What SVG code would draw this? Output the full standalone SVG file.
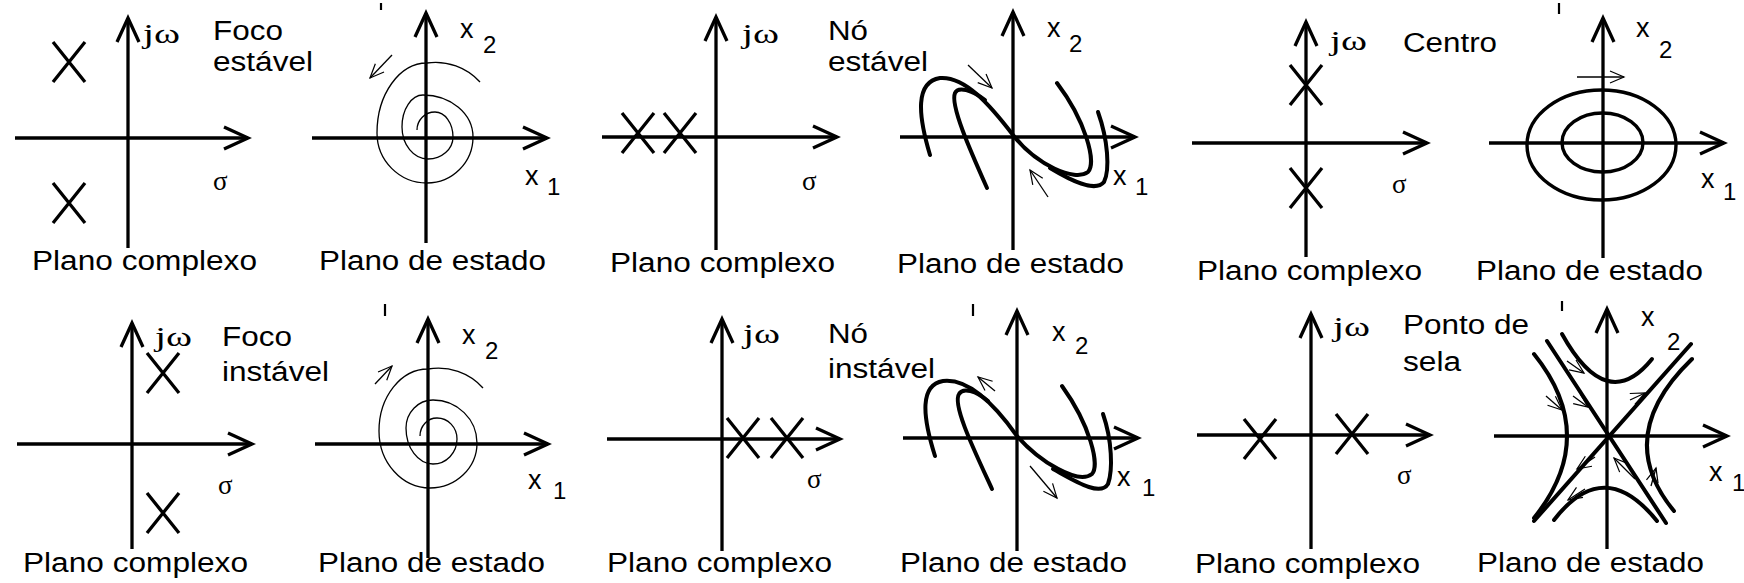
<svg xmlns="http://www.w3.org/2000/svg" width="1744" height="583" viewBox="0 0 1744 583">
<style>
.ax{stroke:#000;stroke-width:3.3;fill:none}
.cv{stroke:#000;stroke-width:4;fill:none;stroke-linecap:round;stroke-linejoin:round}
.el{stroke:#000;stroke-width:3.4;fill:none}
.th{stroke:#000;stroke-width:1.3;fill:none}
.tk{stroke:#000;stroke-width:2.2}
.lbl{font-family:"Liberation Sans",Arial,sans-serif;font-size:27px;fill:#000}
.ttl{font-family:"Liberation Sans",Arial,sans-serif;font-size:27px;fill:#000}
.var{font-family:"Liberation Sans",Arial,sans-serif;font-size:27px;fill:#000}
.sub{font-family:"Liberation Sans",Arial,sans-serif;font-size:24px;fill:#000}
.sym{font-family:"Liberation Serif","Times New Roman",serif;font-size:27px;fill:#000}
</style>
<defs>
<marker id="ah" viewBox="0 0 26 24" refX="25" refY="12" markerWidth="26" markerHeight="24" markerUnits="userSpaceOnUse" orient="auto" style="overflow:visible">
<path d="M1,1 L25,12 L1,23" fill="none" stroke="#000" stroke-width="3.3"/>
</marker>
<marker id="ta" viewBox="0 0 14 12" refX="14" refY="6" markerWidth="14" markerHeight="12" markerUnits="userSpaceOnUse" orient="auto" style="overflow:visible">
<path d="M0,0 L14,6 L0,12" fill="none" stroke="#000" stroke-width="1.2"/>
</marker>
<path id="xm" d="M-16,-20 L16,20 M16,-20 L-16,20" stroke="#000" stroke-width="3.3" fill="none"/>
</defs>

<g id="p1">
<line class="ax" x1="15" y1="138" x2="248" y2="138" marker-end="url(#ah)"/>
<line class="ax" x1="128" y1="248" x2="128" y2="18" marker-end="url(#ah)"/>
<use href="#xm" x="69" y="62"/>
<use href="#xm" x="69" y="203"/>
<text class="sym" x="143" y="43" textLength="37" lengthAdjust="spacingAndGlyphs">jω</text>
<text class="ttl" x="213" y="40" textLength="70" lengthAdjust="spacingAndGlyphs">Foco</text>
<text class="ttl" x="213" y="71" textLength="100" lengthAdjust="spacingAndGlyphs">estável</text>
<text class="sym" x="213" y="190">σ</text>
<text class="lbl" x="32" y="270" textLength="225" lengthAdjust="spacingAndGlyphs">Plano complexo</text>
</g>

<g id="p2">
<line class="ax" x1="312" y1="138" x2="547" y2="138" marker-end="url(#ah)"/>
<line class="ax" x1="426" y1="243" x2="426" y2="13" marker-end="url(#ah)"/>
<path class="th" d="M480,82 A60,60 0 0 0 427,63 A50,70 0 0 0 377,133 A50,50 0 0 0 427,183 A46,46 0 0 0 473,137 A50,42 0 0 0 423,95 A21,32 0 0 0 402,127 A26,32 0 0 0 428,159 A25,22 0 0 0 453,137 A18,25 0 0 0 435,112 A18,18 0 0 0 417,130"/>
<line class="th" x1="392" y1="55" x2="370" y2="78" marker-end="url(#ta)"/>
<line class="tk" x1="381" y1="3" x2="381" y2="10"/>
<text class="var" x="460" y="38">x</text><text class="sub" x="483" y="53">2</text>
<text class="var" x="525" y="185">x</text><text class="sub" x="547" y="195">1</text>
<text class="lbl" x="319" y="270" textLength="227" lengthAdjust="spacingAndGlyphs">Plano de estado</text>
</g>

<g id="p3">
<line class="ax" x1="602" y1="137" x2="837" y2="137" marker-end="url(#ah)"/>
<line class="ax" x1="716" y1="250" x2="716" y2="17" marker-end="url(#ah)"/>
<use href="#xm" x="638" y="133"/>
<use href="#xm" x="680" y="133"/>
<text class="sym" x="742" y="43" textLength="37" lengthAdjust="spacingAndGlyphs">jω</text>
<text class="ttl" x="828" y="40" textLength="40" lengthAdjust="spacingAndGlyphs">Nó</text>
<text class="ttl" x="828" y="71" textLength="100" lengthAdjust="spacingAndGlyphs">estável</text>
<text class="sym" x="802" y="190">σ</text>
<text class="lbl" x="610" y="272" textLength="225" lengthAdjust="spacingAndGlyphs">Plano complexo</text>
</g>

<g id="p4">
<line class="ax" x1="900" y1="137" x2="1135" y2="137" marker-end="url(#ah)"/>
<line class="ax" x1="1013" y1="250" x2="1013" y2="12" marker-end="url(#ah)"/>
<path class="cv" d="M930,155 C918,115 915,82 940,78 C965,76 990,105 1013,135 C1036,165 1075,182 1088,172 C1097,162 1085,120 1057,83"/>
<path class="cv" d="M987,188 C970,150 950,105 955,93 C958,86 972,90 985,100"/>
<path class="cv" d="M1050,168 C1070,180 1095,193 1104,182 C1110,170 1108,140 1098,112"/>
<line class="th" x1="968" y1="65" x2="992" y2="88" marker-end="url(#ta)"/>
<line class="th" x1="1048" y1="197" x2="1030" y2="170" marker-end="url(#ta)"/>
<text class="var" x="1047" y="37">x</text><text class="sub" x="1069" y="52">2</text>
<text class="var" x="1113" y="185">x</text><text class="sub" x="1135" y="195">1</text>
<text class="lbl" x="897" y="273" textLength="227" lengthAdjust="spacingAndGlyphs">Plano de estado</text>
</g>

<g id="p5">
<line class="ax" x1="1192" y1="143" x2="1427" y2="143" marker-end="url(#ah)"/>
<line class="ax" x1="1306" y1="257" x2="1306" y2="22" marker-end="url(#ah)"/>
<use href="#xm" x="1306" y="85"/>
<use href="#xm" x="1306" y="188"/>
<text class="sym" x="1330" y="50" textLength="37" lengthAdjust="spacingAndGlyphs">jω</text>
<text class="ttl" x="1403" y="52" textLength="94" lengthAdjust="spacingAndGlyphs">Centro</text>
<text class="sym" x="1392" y="193">σ</text>
<text class="lbl" x="1197" y="280" textLength="225" lengthAdjust="spacingAndGlyphs">Plano complexo</text>
</g>

<g id="p6">
<line class="ax" x1="1489" y1="143" x2="1724" y2="143" marker-end="url(#ah)"/>
<line class="ax" x1="1603" y1="258" x2="1603" y2="18" marker-end="url(#ah)"/>
<ellipse class="el" cx="1601.5" cy="145" rx="74.5" ry="55"/>
<ellipse class="el" cx="1602.5" cy="142.5" rx="40.5" ry="29.5"/>
<line class="th" x1="1577" y1="77" x2="1624" y2="77" marker-end="url(#ta)"/>
<line class="tk" x1="1559" y1="3" x2="1559" y2="14"/>
<text class="var" x="1636" y="37">x</text><text class="sub" x="1659" y="58">2</text>
<text class="var" x="1701" y="188">x</text><text class="sub" x="1723" y="200">1</text>
<text class="lbl" x="1476" y="280" textLength="227" lengthAdjust="spacingAndGlyphs">Plano de estado</text>
</g>

<g id="p7">
<line class="ax" x1="17" y1="444" x2="252" y2="444" marker-end="url(#ah)"/>
<line class="ax" x1="132" y1="549" x2="132" y2="323" marker-end="url(#ah)"/>
<use href="#xm" x="163" y="373"/>
<use href="#xm" x="163" y="513"/>
<text class="sym" x="155" y="346" textLength="37" lengthAdjust="spacingAndGlyphs">jω</text>
<text class="ttl" x="222" y="346" textLength="70" lengthAdjust="spacingAndGlyphs">Foco</text>
<text class="ttl" x="222" y="381" textLength="107" lengthAdjust="spacingAndGlyphs">instável</text>
<text class="sym" x="218" y="494">σ</text>
<text class="lbl" x="23" y="572" textLength="225" lengthAdjust="spacingAndGlyphs">Plano complexo</text>
</g>

<g id="p8">
<line class="ax" x1="315" y1="444" x2="548" y2="444" marker-end="url(#ah)"/>
<line class="ax" x1="428" y1="558" x2="428" y2="319" marker-end="url(#ah)"/>
<path class="th" d="M483,388 A60,60 0 0 0 428,369 A49,62 0 0 0 379,431 A51,57 0 0 0 430,488 A47,45 0 0 0 477,443 A44,43 0 0 0 433,400 A27,28 0 0 0 406,428 A27,36 0 0 0 433,464 A24,25 0 0 0 457,439 A20,21 0 0 0 437,418 A17,18 0 0 0 420,436"/>
<line class="th" x1="375" y1="384" x2="392" y2="366" marker-end="url(#ta)"/>
<line class="tk" x1="385" y1="304" x2="385" y2="316"/>
<text class="var" x="462" y="344">x</text><text class="sub" x="485" y="359">2</text>
<text class="var" x="528" y="489">x</text><text class="sub" x="553" y="499">1</text>
<text class="lbl" x="318" y="572" textLength="227" lengthAdjust="spacingAndGlyphs">Plano de estado</text>
</g>

<g id="p9">
<line class="ax" x1="607" y1="439" x2="840" y2="439" marker-end="url(#ah)"/>
<line class="ax" x1="722" y1="551" x2="722" y2="319" marker-end="url(#ah)"/>
<use href="#xm" x="743" y="438"/>
<use href="#xm" x="787" y="438"/>
<text class="sym" x="743" y="343" textLength="37" lengthAdjust="spacingAndGlyphs">jω</text>
<text class="ttl" x="828" y="343" textLength="40" lengthAdjust="spacingAndGlyphs">Nó</text>
<text class="ttl" x="828" y="378" textLength="107" lengthAdjust="spacingAndGlyphs">instável</text>
<text class="sym" x="807" y="488">σ</text>
<text class="lbl" x="607" y="572" textLength="225" lengthAdjust="spacingAndGlyphs">Plano complexo</text>
</g>

<g id="p10">
<line class="ax" x1="903" y1="438" x2="1138" y2="438" marker-end="url(#ah)"/>
<line class="ax" x1="1017" y1="551" x2="1017" y2="311" marker-end="url(#ah)"/>
<path class="cv" d="M935,456 C922,415 920,385 943,381 C968,378 995,405 1017,436 C1040,462 1078,485 1092,474 C1100,465 1090,425 1062,386"/>
<path class="cv" d="M992,489 C975,452 952,405 959,394 C963,387 976,391 988,401"/>
<path class="cv" d="M1053,469 C1075,481 1100,497 1108,484 C1113,470 1112,440 1103,414"/>
<line class="th" x1="995" y1="391" x2="978" y2="377" marker-end="url(#ta)"/>
<line class="th" x1="1030" y1="466" x2="1057" y2="498" marker-end="url(#ta)"/>
<line class="tk" x1="973" y1="304" x2="973" y2="316"/>
<text class="var" x="1052" y="341">x</text><text class="sub" x="1075" y="354">2</text>
<text class="var" x="1117" y="486">x</text><text class="sub" x="1142" y="496">1</text>
<text class="lbl" x="900" y="572" textLength="227" lengthAdjust="spacingAndGlyphs">Plano de estado</text>
</g>

<g id="p11">
<line class="ax" x1="1197" y1="435" x2="1430" y2="435" marker-end="url(#ah)"/>
<line class="ax" x1="1311" y1="549" x2="1311" y2="314" marker-end="url(#ah)"/>
<use href="#xm" x="1260" y="439"/>
<use href="#xm" x="1352" y="434"/>
<text class="sym" x="1333" y="336" textLength="37" lengthAdjust="spacingAndGlyphs">jω</text>
<text class="ttl" x="1403" y="334" textLength="126" lengthAdjust="spacingAndGlyphs">Ponto de</text>
<text class="ttl" x="1403" y="371" textLength="58" lengthAdjust="spacingAndGlyphs">sela</text>
<text class="sym" x="1397" y="484">σ</text>
<text class="lbl" x="1195" y="573" textLength="225" lengthAdjust="spacingAndGlyphs">Plano complexo</text>
</g>

<g id="p12">
<line class="ax" x1="1494" y1="436" x2="1727" y2="436" marker-end="url(#ah)"/>
<line class="ax" x1="1607" y1="549" x2="1607" y2="309" marker-end="url(#ah)"/>
<line class="cv" x1="1547" y1="341" x2="1666" y2="523"/>
<line class="cv" x1="1691" y1="344" x2="1534" y2="521"/>
<path class="cv" d="M1562,334 Q1607,415 1652,359"/>
<path class="cv" d="M1554,520 Q1604,455 1657,521"/>
<path class="cv" d="M1534,354 Q1600,436 1534,518"/>
<path class="cv" d="M1692,359 Q1612,436 1674,511"/>
<line class="th" x1="1567" y1="361" x2="1584" y2="373" marker-end="url(#ta)"/>
<line class="th" x1="1546" y1="396" x2="1562" y2="410" marker-end="url(#ta)"/>
<line class="th" x1="1573" y1="396" x2="1588" y2="407" marker-end="url(#ta)"/>
<line class="th" x1="1630" y1="400" x2="1645" y2="393" marker-end="url(#ta)"/>
<line class="th" x1="1595" y1="457" x2="1577" y2="469" marker-end="url(#ta)"/>
<line class="th" x1="1635" y1="479" x2="1614" y2="458" marker-end="url(#ta)"/>
<line class="th" x1="1651" y1="486" x2="1656" y2="468" marker-end="url(#ta)"/>
<line class="th" x1="1585" y1="489" x2="1568" y2="500" marker-end="url(#ta)"/>
<line class="tk" x1="1562" y1="301" x2="1562" y2="311"/>
<text class="var" x="1641" y="326">x</text><text class="sub" x="1667" y="350">2</text>
<text class="var" x="1709" y="481">x</text><text class="sub" x="1732" y="491">1</text>
<text class="lbl" x="1477" y="572" textLength="227" lengthAdjust="spacingAndGlyphs">Plano de estado</text>
</g>
</svg>
